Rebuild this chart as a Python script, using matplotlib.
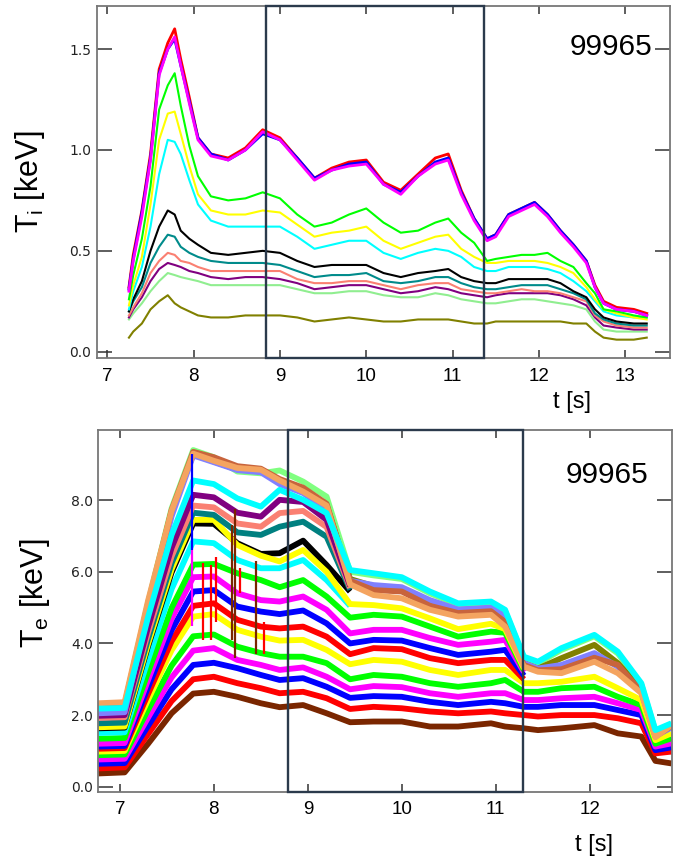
import matplotlib
matplotlib.use('Agg')
import matplotlib.pyplot as plt
import matplotlib.transforms as mtransforms
from matplotlib.patches import Rectangle
import numpy as np

plt.rcParams['font.family'] = ['Liberation Sans', 'DejaVu Sans']

shot = '99965'

# ---- ion temperature (CXRS channels), keV ----
t_ti = [7.25, 7.3, 7.4, 7.5, 7.6, 7.7, 7.78, 7.85, 7.95, 8.05, 8.2, 8.4, 8.6, 8.8,
        9.0, 9.2, 9.4, 9.6, 9.8, 10.0, 10.2, 10.4, 10.6, 10.8, 10.95, 11.1, 11.25,
        11.4, 11.5, 11.65, 11.8, 11.95, 12.1, 12.25, 12.4, 12.55, 12.65, 12.75,
        12.9, 13.1, 13.25]

ti_red = [0.32, 0.48, 0.70, 0.98, 1.40, 1.53, 1.60, 1.45, 1.26, 1.06, 0.98, 0.96, 1.01, 1.10,
          1.06, 0.96, 0.86, 0.91, 0.94, 0.95, 0.84, 0.80, 0.88, 0.96, 0.98, 0.80, 0.66,
          0.56, 0.58, 0.68, 0.71, 0.74, 0.68, 0.60, 0.53, 0.45, 0.33, 0.25, 0.22, 0.21, 0.19]
ti_blue = [0.31, 0.46, 0.69, 0.96, 1.38, 1.50, 1.55, 1.42, 1.24, 1.06, 0.98, 0.95, 1.00, 1.08,
           1.05, 0.96, 0.86, 0.90, 0.93, 0.94, 0.83, 0.79, 0.87, 0.94, 0.96, 0.79, 0.66,
           0.56, 0.58, 0.68, 0.71, 0.74, 0.68, 0.60, 0.53, 0.45, 0.32, 0.24, 0.21, 0.20, 0.18]
ti_magenta = [0.30, 0.45, 0.67, 0.95, 1.37, 1.50, 1.56, 1.42, 1.23, 1.05, 0.97, 0.95, 1.00, 1.09,
              1.05, 0.95, 0.85, 0.90, 0.92, 0.93, 0.83, 0.78, 0.87, 0.93, 0.95, 0.78, 0.65,
              0.55, 0.57, 0.67, 0.70, 0.73, 0.67, 0.59, 0.52, 0.44, 0.32, 0.24, 0.21, 0.20, 0.18]
ti_green = [0.26, 0.38, 0.56, 0.82, 1.20, 1.32, 1.38, 1.22, 1.02, 0.87, 0.77, 0.75, 0.76, 0.79,
            0.76, 0.68, 0.62, 0.64, 0.68, 0.71, 0.64, 0.59, 0.60, 0.64, 0.66, 0.59, 0.54,
            0.45, 0.46, 0.47, 0.48, 0.48, 0.49, 0.45, 0.42, 0.34, 0.29, 0.21, 0.20, 0.18, 0.17]
ti_yellow = [0.23, 0.33, 0.47, 0.73, 1.05, 1.18, 1.19, 1.08, 0.92, 0.78, 0.70, 0.68, 0.68, 0.70,
             0.69, 0.63, 0.57, 0.59, 0.60, 0.62, 0.55, 0.51, 0.54, 0.57, 0.58, 0.51, 0.47,
             0.44, 0.44, 0.45, 0.45, 0.45, 0.44, 0.42, 0.39, 0.32, 0.26, 0.21, 0.19, 0.17, 0.16]
ti_cyan = [0.21, 0.30, 0.42, 0.62, 0.88, 1.05, 1.04, 0.98, 0.85, 0.73, 0.65, 0.62, 0.62, 0.62,
           0.62, 0.57, 0.51, 0.53, 0.55, 0.55, 0.49, 0.46, 0.49, 0.51, 0.50, 0.47, 0.42,
           0.40, 0.40, 0.42, 0.42, 0.42, 0.41, 0.39, 0.35, 0.30, 0.25, 0.20, 0.18, 0.17, 0.17]
ti_black = [0.20, 0.26, 0.35, 0.50, 0.62, 0.70, 0.68, 0.60, 0.56, 0.53, 0.49, 0.48, 0.49, 0.50,
            0.49, 0.45, 0.42, 0.43, 0.43, 0.43, 0.39, 0.37, 0.39, 0.40, 0.41, 0.37, 0.35,
            0.34, 0.34, 0.36, 0.36, 0.36, 0.36, 0.34, 0.30, 0.27, 0.21, 0.17, 0.15, 0.14, 0.14]
ti_teal = [0.20, 0.25, 0.32, 0.44, 0.52, 0.58, 0.57, 0.52, 0.49, 0.47, 0.45, 0.44, 0.44, 0.44,
           0.43, 0.40, 0.37, 0.38, 0.38, 0.39, 0.35, 0.34, 0.35, 0.37, 0.37, 0.34, 0.32,
           0.31, 0.31, 0.32, 0.33, 0.33, 0.33, 0.31, 0.29, 0.26, 0.19, 0.16, 0.14, 0.13, 0.13]
ti_salmon = [0.18, 0.22, 0.29, 0.39, 0.45, 0.49, 0.48, 0.45, 0.44, 0.42, 0.40, 0.40, 0.40, 0.40,
             0.40, 0.36, 0.34, 0.34, 0.35, 0.35, 0.33, 0.31, 0.33, 0.34, 0.34, 0.31, 0.30,
             0.29, 0.29, 0.30, 0.31, 0.30, 0.30, 0.29, 0.27, 0.25, 0.18, 0.15, 0.13, 0.12, 0.12]
ti_purple = [0.17, 0.21, 0.27, 0.35, 0.41, 0.44, 0.43, 0.42, 0.40, 0.39, 0.37, 0.36, 0.37, 0.37,
             0.36, 0.34, 0.31, 0.32, 0.33, 0.33, 0.31, 0.29, 0.30, 0.32, 0.31, 0.29, 0.28,
             0.27, 0.28, 0.29, 0.29, 0.29, 0.29, 0.28, 0.26, 0.23, 0.17, 0.13, 0.12, 0.11, 0.11]
ti_lightgreen = [0.16, 0.19, 0.24, 0.30, 0.35, 0.39, 0.38, 0.37, 0.36, 0.35, 0.33, 0.33, 0.33, 0.33,
                 0.33, 0.31, 0.29, 0.29, 0.30, 0.30, 0.28, 0.27, 0.27, 0.29, 0.28, 0.26, 0.25,
                 0.24, 0.24, 0.25, 0.26, 0.26, 0.25, 0.24, 0.23, 0.21, 0.15, 0.11, 0.10, 0.10, 0.10]
ti_olive = [0.07, 0.10, 0.14, 0.21, 0.25, 0.28, 0.24, 0.22, 0.20, 0.18, 0.17, 0.17, 0.18, 0.18,
            0.18, 0.17, 0.15, 0.16, 0.17, 0.16, 0.15, 0.15, 0.16, 0.16, 0.16, 0.15, 0.14,
            0.14, 0.15, 0.15, 0.15, 0.15, 0.15, 0.15, 0.14, 0.14, 0.10, 0.07, 0.06, 0.06, 0.07]

ti_series = [ti_olive, ti_lightgreen, ti_purple, ti_salmon, ti_teal, ti_black,
             ti_cyan, ti_yellow, ti_green, ti_red, ti_blue, ti_magenta]
ti_colors = ['#808000', '#90EE90', '#800080', '#FA8072', '#008B8B', 'black',
             'cyan', '#FFFF00', '#00FF00', 'red', 'blue', 'magenta']

# ---- electron temperature (ECE channels), keV ----
t_te = [6.77, 7.05, 7.3, 7.55, 7.78, 8.0, 8.25, 8.5, 8.7, 8.95, 9.2, 9.45, 9.7,
        10.0, 10.3, 10.6, 10.95, 11.1, 11.3, 11.45, 11.7, 12.05, 12.3, 12.55, 12.7, 12.87]

te_ch = {
    'brown': [0.37, 0.40, 1.20, 2.05, 2.60, 2.65, 2.51, 2.33, 2.22, 2.28, 2.05, 1.80, 1.82,
              1.82, 1.68, 1.68, 1.77, 1.68, 1.63, 1.58, 1.63, 1.72, 1.49, 1.40, 0.72, 0.65],
    'red1': [0.51, 0.54, 1.47, 2.39, 3.00, 3.07, 2.89, 2.75, 2.61, 2.65, 2.47, 2.17, 2.23,
             2.19, 2.10, 2.05, 2.10, 2.05, 2.00, 1.96, 2.00, 2.00, 1.91, 1.77, 0.93, 0.98],
    'blue1': [0.64, 0.66, 1.70, 2.72, 3.40, 3.46, 3.31, 3.12, 2.98, 3.03, 2.79, 2.48, 2.53,
              2.51, 2.37, 2.28, 2.37, 2.33, 2.23, 2.23, 2.28, 2.28, 2.14, 2.00, 1.02, 1.10],
    'magenta1': [0.76, 0.78, 1.93, 3.05, 3.80, 3.87, 3.54, 3.40, 3.26, 3.33, 3.07, 2.72, 2.81,
                 2.78, 2.61, 2.51, 2.61, 2.61, 2.42, 2.42, 2.47, 2.51, 2.33, 2.14, 1.12, 1.21],
    'green1': [0.88, 0.90, 2.15, 3.38, 4.20, 4.25, 3.91, 3.73, 3.63, 3.63, 3.45, 3.00, 3.12,
               3.07, 2.89, 2.79, 2.89, 2.98, 2.65, 2.65, 2.75, 2.79, 2.51, 2.28, 1.20, 1.35],
    'yellow1': [0.98, 1.00, 2.43, 3.81, 4.75, 4.82, 4.38, 4.19, 4.08, 4.10, 3.82, 3.42, 3.54,
                3.49, 3.26, 3.12, 3.26, 3.26, 2.89, 2.89, 2.93, 3.07, 2.75, 2.42, 1.30, 1.49],
    'red2': [1.06, 1.08, 2.59, 4.06, 5.05, 5.12, 4.66, 4.47, 4.42, 4.47, 4.19, 3.70, 3.87,
             3.84, 3.59, 3.45, 3.54, 3.54, 3.00] + [None] * 7,
    'blue2': [1.12, 1.14, 2.78, 4.37, 5.45, 5.49, 5.03, 4.89, 4.82, 4.92, 4.56, 4.00, 4.10,
              4.08, 3.87, 3.68, 3.77, 3.82, 3.10] + [None] * 7,
    'magenta2': [1.20, 1.22, 2.98, 4.69, 5.85, 5.87, 5.40, 5.21, 5.17, 5.31, 4.94, 4.28, 4.38,
                 4.38, 4.15, 3.96, 4.05, 4.10, 3.20] + [None] * 7,
    'green2': [1.34, 1.36, 3.20, 4.99, 6.20, 6.22, 5.96, 5.77, 5.57, 5.77, 5.31, 4.72, 4.80,
               4.75, 4.47, 4.19, 4.33, 4.30, 3.25] + [None] * 7,
    'cyan1': [1.50, 1.52, 3.55, 5.52, 6.85, 6.80, 6.33, 6.10, 6.10, 6.33, 5.77, 5.05] + [None] * 14,
    'black': [1.63, 1.65, 3.93, 5.98, 7.35, 7.34, 6.80, 6.50, 6.52, 6.87, 6.19, 5.45] + [None] * 14,
    'yellow2': [1.66, 1.68, 3.99, 6.07, 7.45, 7.45, 6.75, 6.45, 6.29, 6.61, 6.00, 5.10, 5.07,
                4.98, 4.70, 4.40, 4.55, 4.40, 3.30] + [None] * 7,
    'teal': [1.77, 1.79, 4.13, 6.24, 7.65, 7.59, 7.10, 7.03, 7.26, 7.40, 6.98, 5.50] + [None] * 14,
    'salmon': [1.92, 1.94, 4.30, 6.43, 7.85, 7.80, 7.35, 7.26, 7.64, 7.70, 7.25, 5.55] + [None] * 14,
    'purple': [1.98, 2.00, 4.46, 6.67, 8.15, 8.08, 7.65, 7.54, 8.01, 7.95, 7.45, 5.60] + [None] * 14,
    'lightgreen': [2.28, 2.30, 5.14, 7.77, 9.40, 9.20, 8.80, 8.75, 8.83, 8.52, 8.10, 6.00, 5.90,
                   5.80, 5.40, 5.08, 5.12, 4.90, 3.60, 3.45, 3.82, 4.20, 3.72, 2.85, 1.55, 1.75],
    'olive': [2.20, 2.22, 5.05, 7.67, 9.28, 9.08, 8.86, 8.80, 8.50, 8.25, 7.85, 5.80, 5.60,
              5.55, 5.15, 4.90, 4.95, 4.70, 3.45, 3.30, 3.59, 3.96, 3.45, 2.70, 1.45, 1.70],
    'mediumpurple': [2.05, 2.08, 4.92, 7.55, 9.25, 9.06, 8.84, 8.78, 8.45, 8.20, 7.75, 5.75, 5.63,
                     5.57, 5.21, 4.95, 5.00, 4.75, 3.45, 3.30, 3.40, 3.73, 3.35, 2.65, 1.42, 1.65],
    'sienna': [2.25, 2.28, 5.11, 7.72, 9.35, 9.20, 8.95, 8.88, 8.59, 8.35, 7.90, 5.75, 5.49,
               5.45, 5.05, 4.85, 4.90, 4.60, 3.40, 3.25, 3.28, 3.60, 3.40, 2.65, 1.40, 1.70],
    'sandybrown': [2.33, 2.36, 5.20, 7.70, 9.30, 9.10, 8.90, 8.85, 8.55, 8.24, 7.85, 5.65, 5.35,
                   5.26, 4.94, 4.75, 4.80, 4.47, 3.35, 3.21, 3.17, 3.49, 3.17, 2.61, 1.38, 1.72],
    'cyan2': [2.18, 2.20, 4.74, 7.03, 8.55, 8.45, 8.05, 7.82, 8.29, 8.01, 7.64, 6.05, 5.96,
              5.85, 5.45, 5.12, 5.17, 4.94, 3.63, 3.49, 3.87, 4.24, 3.77, 2.89, 1.58, 1.77],
}
te_colors = {
    'brown': '#7A2600', 'red1': 'red', 'blue1': 'blue', 'magenta1': 'magenta',
    'green1': '#00FF00', 'yellow1': '#FFFF00', 'red2': 'red', 'blue2': 'blue',
    'magenta2': 'magenta', 'green2': '#00FF00', 'cyan1': 'cyan', 'black': 'black',
    'yellow2': '#FFFF00', 'teal': '#008080', 'salmon': '#FA8072', 'purple': '#800080',
    'lightgreen': '#80FF80', 'olive': '#808000', 'mediumpurple': '#8080FF',
    'sienna': '#C8643C', 'sandybrown': '#F4A460', 'cyan2': 'cyan',
}

# glitches in the ECE data: time, low, high, colour
spike_t = [7.77, 7.77, 7.88, 7.97, 8.02, 8.19, 8.22, 8.28, 8.45, 8.53]
spike_lo = [6.6, 4.5, 4.1, 4.1, 4.6, 4.1, 3.6, 5.4, 3.7, 3.7]
spike_hi = [9.3, 6.6, 6.25, 6.2, 6.4, 7.3, 7.75, 6.1, 6.3, 4.6]
spike_col = ['blue', 'magenta', 'red', 'red', 'red', '#7A2600', '#7A2600', 'red', '#7A2600', 'red']

# analysis windows
window_ti = (8.84, 11.37)
window_te = (8.79, 11.29)


def style_axes(ax, xlim, ylim, yticks, ylabel, xlab_pos, ylab_pos, shot_pos):
    ax.set_xlim(*xlim)
    ax.set_ylim(*ylim)
    ax.set_xticks(range(7, int(xlim[1]) + 1))
    ax.set_yticks(yticks)
    ax.set_yticklabels(['%.1f' % v for v in yticks], family='DejaVu Sans', fontsize=10, color='#222222')
    ax.tick_params(axis='x', direction='in', length=6, width=1.1, labelsize=13.5, pad=7,
                   top=True, bottom=True, color='#333333')
    ax.tick_params(axis='y', direction='in', length=11, width=1.1, pad=4,
                   left=True, right=True, color='#333333')
    for s in ax.spines.values():
        s.set_color('#777777')
        s.set_linewidth(1.3)
    ax.text(xlab_pos[0], xlab_pos[1], 't [s]', transform=ax.transAxes, fontsize=17,
            ha='center', va='center')
    ax.text(ylab_pos[0], ylab_pos[1], ylabel, transform=ax.transAxes, fontsize=22,
            rotation=90, ha='center', va='center')
    ax.text(shot_pos[0], shot_pos[1], shot, transform=ax.transAxes, fontsize=21.5,
            ha='right', va='center')


def add_window(ax, window):
    trans = mtransforms.blended_transform_factory(ax.transData, ax.transAxes)
    ax.add_patch(Rectangle((window[0], 0), window[1] - window[0], 1, transform=trans,
                           fill=False, ec='#2B3A4C', lw=1.7, zorder=10, clip_on=False))


fig = plt.figure(figsize=(6.87, 8.6), dpi=100)
ax1 = fig.add_axes([0.1412, 0.5837, 0.8341, 0.4093])
ax2 = fig.add_axes([0.1431, 0.0794, 0.8346, 0.4206])

# top: Ti
for vals, col in zip(ti_series, ti_colors):
    lw = 2.0 if col in ('red', 'blue', 'magenta') else 1.5
    ax1.plot(t_ti, vals, color=col, lw=lw)
add_window(ax1, window_ti)
style_axes(ax1, (6.88, 13.52), (-0.031, 1.713), [0.0, 0.5, 1.0, 1.5],
           r'T$_\mathregular{i}$ [keV]', (0.829, -0.125), (-0.117, 0.5), (0.970, 0.884))

# bottom: Te
draw_order = ['brown', 'red1', 'blue1', 'magenta1', 'green1', 'yellow1', 'red2', 'blue2',
              'magenta2', 'green2', 'cyan1', 'black', 'yellow2', 'teal', 'salmon', 'purple',
              'lightgreen', 'olive', 'mediumpurple', 'sienna', 'sandybrown', 'cyan2']
for name in draw_order:
    vals = np.array(te_ch[name], dtype=float)
    ax2.plot(t_te, vals, color=te_colors[name], lw=4.2, solid_capstyle='butt')
ax2.vlines(spike_t, spike_lo, spike_hi, colors=spike_col, lw=1.6)
add_window(ax2, window_te)
style_axes(ax2, (6.77, 12.873), (-0.14, 9.96), [0.0, 2.0, 4.0, 6.0, 8.0],
           r'T$_\mathregular{e}$ [keV]', (0.8645, -0.147), (-0.110, 0.549), (0.9587, 0.876))

fig.savefig('out.png', dpi=100)
